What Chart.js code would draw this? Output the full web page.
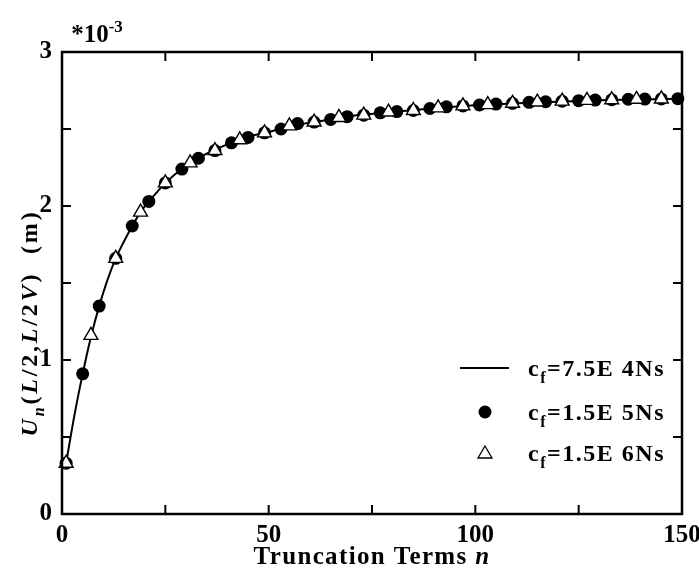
<!DOCTYPE html>
<html>
<head>
<meta charset="utf-8">
<script src="https://cdn.jsdelivr.net/npm/chart.js@4"></script>
<style>
  html, body { margin: 0; padding: 0; background: #fff; }
  #wrap { width: 699px; height: 572px; }
</style>
</head>
<body>
<div id="wrap"><canvas id="chart"></canvas></div>
<script>
// c_f = 7.5E4 Ns (solid line)
const lineN = [1, 3, 5, 7, 9, 11, 13, 15, 17, 19, 21, 23, 25, 30, 35, 40, 45, 50, 55, 60, 70, 80, 90, 100, 110, 120, 130, 140, 150];
const lineU = [0.33, 0.64, 0.91, 1.15, 1.35, 1.52, 1.66, 1.77, 1.87, 1.96, 2.03, 2.09, 2.15, 2.26, 2.34, 2.40, 2.45, 2.48, 2.52, 2.54, 2.585, 2.61, 2.635, 2.655, 2.667, 2.677, 2.686, 2.692, 2.697];

// c_f = 1.5E5 Ns (filled circles)
const circleN = [1, 5, 9, 13, 17, 21, 25, 29, 33, 37, 41, 45, 49, 53, 57, 61, 65, 69, 73, 77, 81, 85, 89, 93, 97, 101, 105, 109, 113, 117, 121, 125, 129, 133, 137, 141, 145, 149];
const circleU = [0.33, 0.91, 1.35, 1.66, 1.87, 2.03, 2.15, 2.24, 2.31, 2.36, 2.41, 2.445, 2.475, 2.50, 2.535, 2.545, 2.562, 2.58, 2.59, 2.605, 2.613, 2.62, 2.633, 2.644, 2.65, 2.656, 2.662, 2.667, 2.673, 2.677, 2.681, 2.684, 2.688, 2.69, 2.693, 2.694, 2.695, 2.697];

// c_f = 1.5E6 Ns (open triangles)
const triangleN = [1, 7, 13, 19, 25, 31, 37, 43, 49, 55, 61, 67, 73, 79, 85, 91, 97, 103, 109, 115, 121, 127, 133, 139, 145];
const triangleU = [0.33, 1.16, 1.66, 1.96, 2.15, 2.28, 2.36, 2.43, 2.475, 2.52, 2.545, 2.575, 2.59, 2.61, 2.62, 2.637, 2.65, 2.658, 2.667, 2.675, 2.681, 2.686, 2.69, 2.693, 2.695];

const xTicks = [0, 50, 100, 150];
const yTicks = [0, 1, 2, 3];

const SERIF = "'Liberation Serif', 'DejaVu Serif', serif";

function toPoints(xs, ys) {
  return xs.map((x, i) => ({ x, y: ys[i] }));
}

// draws bold serif text made of pieces (italic / subscript / superscript),
// centred on x; if target is given the letters are spread to that width
function drawRich(ctx, parts, x, y, size, target) {
  const fontOf = (p) =>
    (p.italic ? "italic " : "") + "bold " + Math.round(p.sub || p.sup ? size * 0.66 : size) + "px " + SERIF;
  ctx.letterSpacing = "0px";
  let total = 0;
  let chars = 0;
  parts.forEach((p) => {
    ctx.font = fontOf(p);
    total += ctx.measureText(p.t).width;
    chars += p.t.length;
  });
  const spacing = target ? Math.max(0, (target - total) / chars) : 0;
  ctx.letterSpacing = spacing + "px";
  const full = total + spacing * chars;
  let cx = x - full / 2;
  ctx.textAlign = "left";
  ctx.textBaseline = "alphabetic";
  parts.forEach((p) => {
    ctx.font = fontOf(p);
    const dy = p.sub ? size * 0.3 : p.sup ? -size * 0.42 : 0;
    ctx.fillText(p.t, cx, y + dy);
    cx += ctx.measureText(p.t).width;
  });
  ctx.letterSpacing = "0px";
}

const decorations = {
  id: "decorations",
  afterDraw(chart) {
    const { ctx, chartArea: a, scales } = chart;
    const xs = scales.x;
    const ys = scales.y;
    ctx.save();
    ctx.strokeStyle = "#000";
    ctx.fillStyle = "#000";

    // frame
    ctx.lineWidth = 2.5;
    ctx.strokeRect(a.left, a.top, a.right - a.left, a.bottom - a.top);

    // inward ticks
    const tl = 9;
    ctx.lineWidth = 2;
    ctx.beginPath();
    for (let v = 0; v <= 150; v += 25) {
      const px = xs.getPixelForValue(v);
      ctx.moveTo(px, a.bottom);
      ctx.lineTo(px, a.bottom - tl);
      ctx.moveTo(px, a.top);
      ctx.lineTo(px, a.top + tl);
    }
    for (let v = 0; v <= 3; v += 0.5) {
      const py = ys.getPixelForValue(v);
      ctx.moveTo(a.left, py);
      ctx.lineTo(a.left + tl, py);
      ctx.moveTo(a.right, py);
      ctx.lineTo(a.right - tl, py);
    }
    ctx.stroke();

    // multiplier
    drawRich(ctx, [{ t: "*10" }, { t: "-3", sup: true }], 97, 42, 25);

    // x title
    drawRich(ctx, [{ t: "Truncation Terms " }, { t: "n", italic: true }], 372, 564, 25, 237);

    // y title
    ctx.save();
    ctx.translate(37, 323);
    ctx.rotate(-Math.PI / 2);
    drawRich(
      ctx,
      [
        { t: "U", italic: true },
        { t: "n", italic: true, sub: true },
        { t: "(" },
        { t: "L", italic: true },
        { t: "/2," },
        { t: "L", italic: true },
        { t: "/2" },
        { t: "V", italic: true },
        { t: ")  (m)" },
      ],
      0,
      0,
      24,
      227
    );
    ctx.restore();

    // legend
    const rows = [368, 412, 453];
    const labels = ["=7.5E 4Ns", "=1.5E 5Ns", "=1.5E 6Ns"];
    ctx.lineWidth = 2;
    ctx.beginPath();
    ctx.moveTo(460, rows[0]);
    ctx.lineTo(509, rows[0]);
    ctx.stroke();
    ctx.beginPath();
    ctx.arc(485, rows[1], 6.5, 0, Math.PI * 2);
    ctx.fill();
    ctx.lineWidth = 1.3;
    ctx.beginPath();
    ctx.moveTo(485, rows[2] - 7);
    ctx.lineTo(492, rows[2] + 5);
    ctx.lineTo(478, rows[2] + 5);
    ctx.closePath();
    ctx.stroke();

    rows.forEach((ry, i) => {
      drawRich(ctx, [{ t: "c" }, { t: "f", sub: true }, { t: labels[i] }], 528 + 137 / 2, ry + 8, 24, 137);
    });

    ctx.restore();
  },
};

new Chart(document.getElementById("chart"), {
  type: "scatter",
  data: {
    datasets: [
      {
        label: "cf=7.5E4Ns",
        data: toPoints(lineN, lineU),
        showLine: true,
        borderColor: "#000",
        borderWidth: 2,
        pointRadius: 0,
        cubicInterpolationMode: "monotone",
        order: 2,
        clip: false,
      },
      {
        label: "cf=1.5E5Ns",
        data: toPoints(circleN, circleU),
        pointStyle: "circle",
        pointRadius: 6.5,
        backgroundColor: "#000",
        borderColor: "#000",
        borderWidth: 0,
        order: 1,
        clip: false,
      },
      {
        label: "cf=1.5E6Ns",
        data: toPoints(triangleN, triangleU),
        pointStyle: "triangle",
        pointRadius: 8,
        backgroundColor: "#fff",
        borderColor: "#000",
        borderWidth: 1.4,
        order: 0,
        clip: false,
      },
    ],
  },
  options: {
    responsive: true,
    maintainAspectRatio: false,
    animation: false,
    layout: { padding: { top: 52, right: 17, left: 0, bottom: 0 } },
    plugins: {
      legend: { display: false },
      tooltip: { enabled: false },
    },
    scales: {
      x: {
        type: "linear",
        min: 0,
        max: 150,
        afterFit: (s) => {
          s.height = 58;
          s.paddingLeft = 0;
          s.paddingRight = 0;
        },
        afterBuildTicks: (s) => { s.ticks = xTicks.map((v) => ({ value: v })); },
        grid: { display: false, drawTicks: false },
        border: { display: false },
        ticks: {
          padding: 7,
          color: "#000",
          maxRotation: 0,
          font: { family: SERIF, size: 25, weight: "bold" },
        },
      },
      y: {
        type: "linear",
        min: 0,
        max: 3,
        afterFit: (s) => {
          s.width = 62;
          s.paddingTop = 0;
          s.paddingBottom = 0;
        },
        afterBuildTicks: (s) => { s.ticks = yTicks.map((v) => ({ value: v })); },
        grid: { display: false, drawTicks: false },
        border: { display: false },
        ticks: {
          padding: 10,
          color: "#000",
          font: { family: SERIF, size: 25, weight: "bold" },
        },
      },
    },
  },
  plugins: [decorations],
});
</script>
</body>
</html>
